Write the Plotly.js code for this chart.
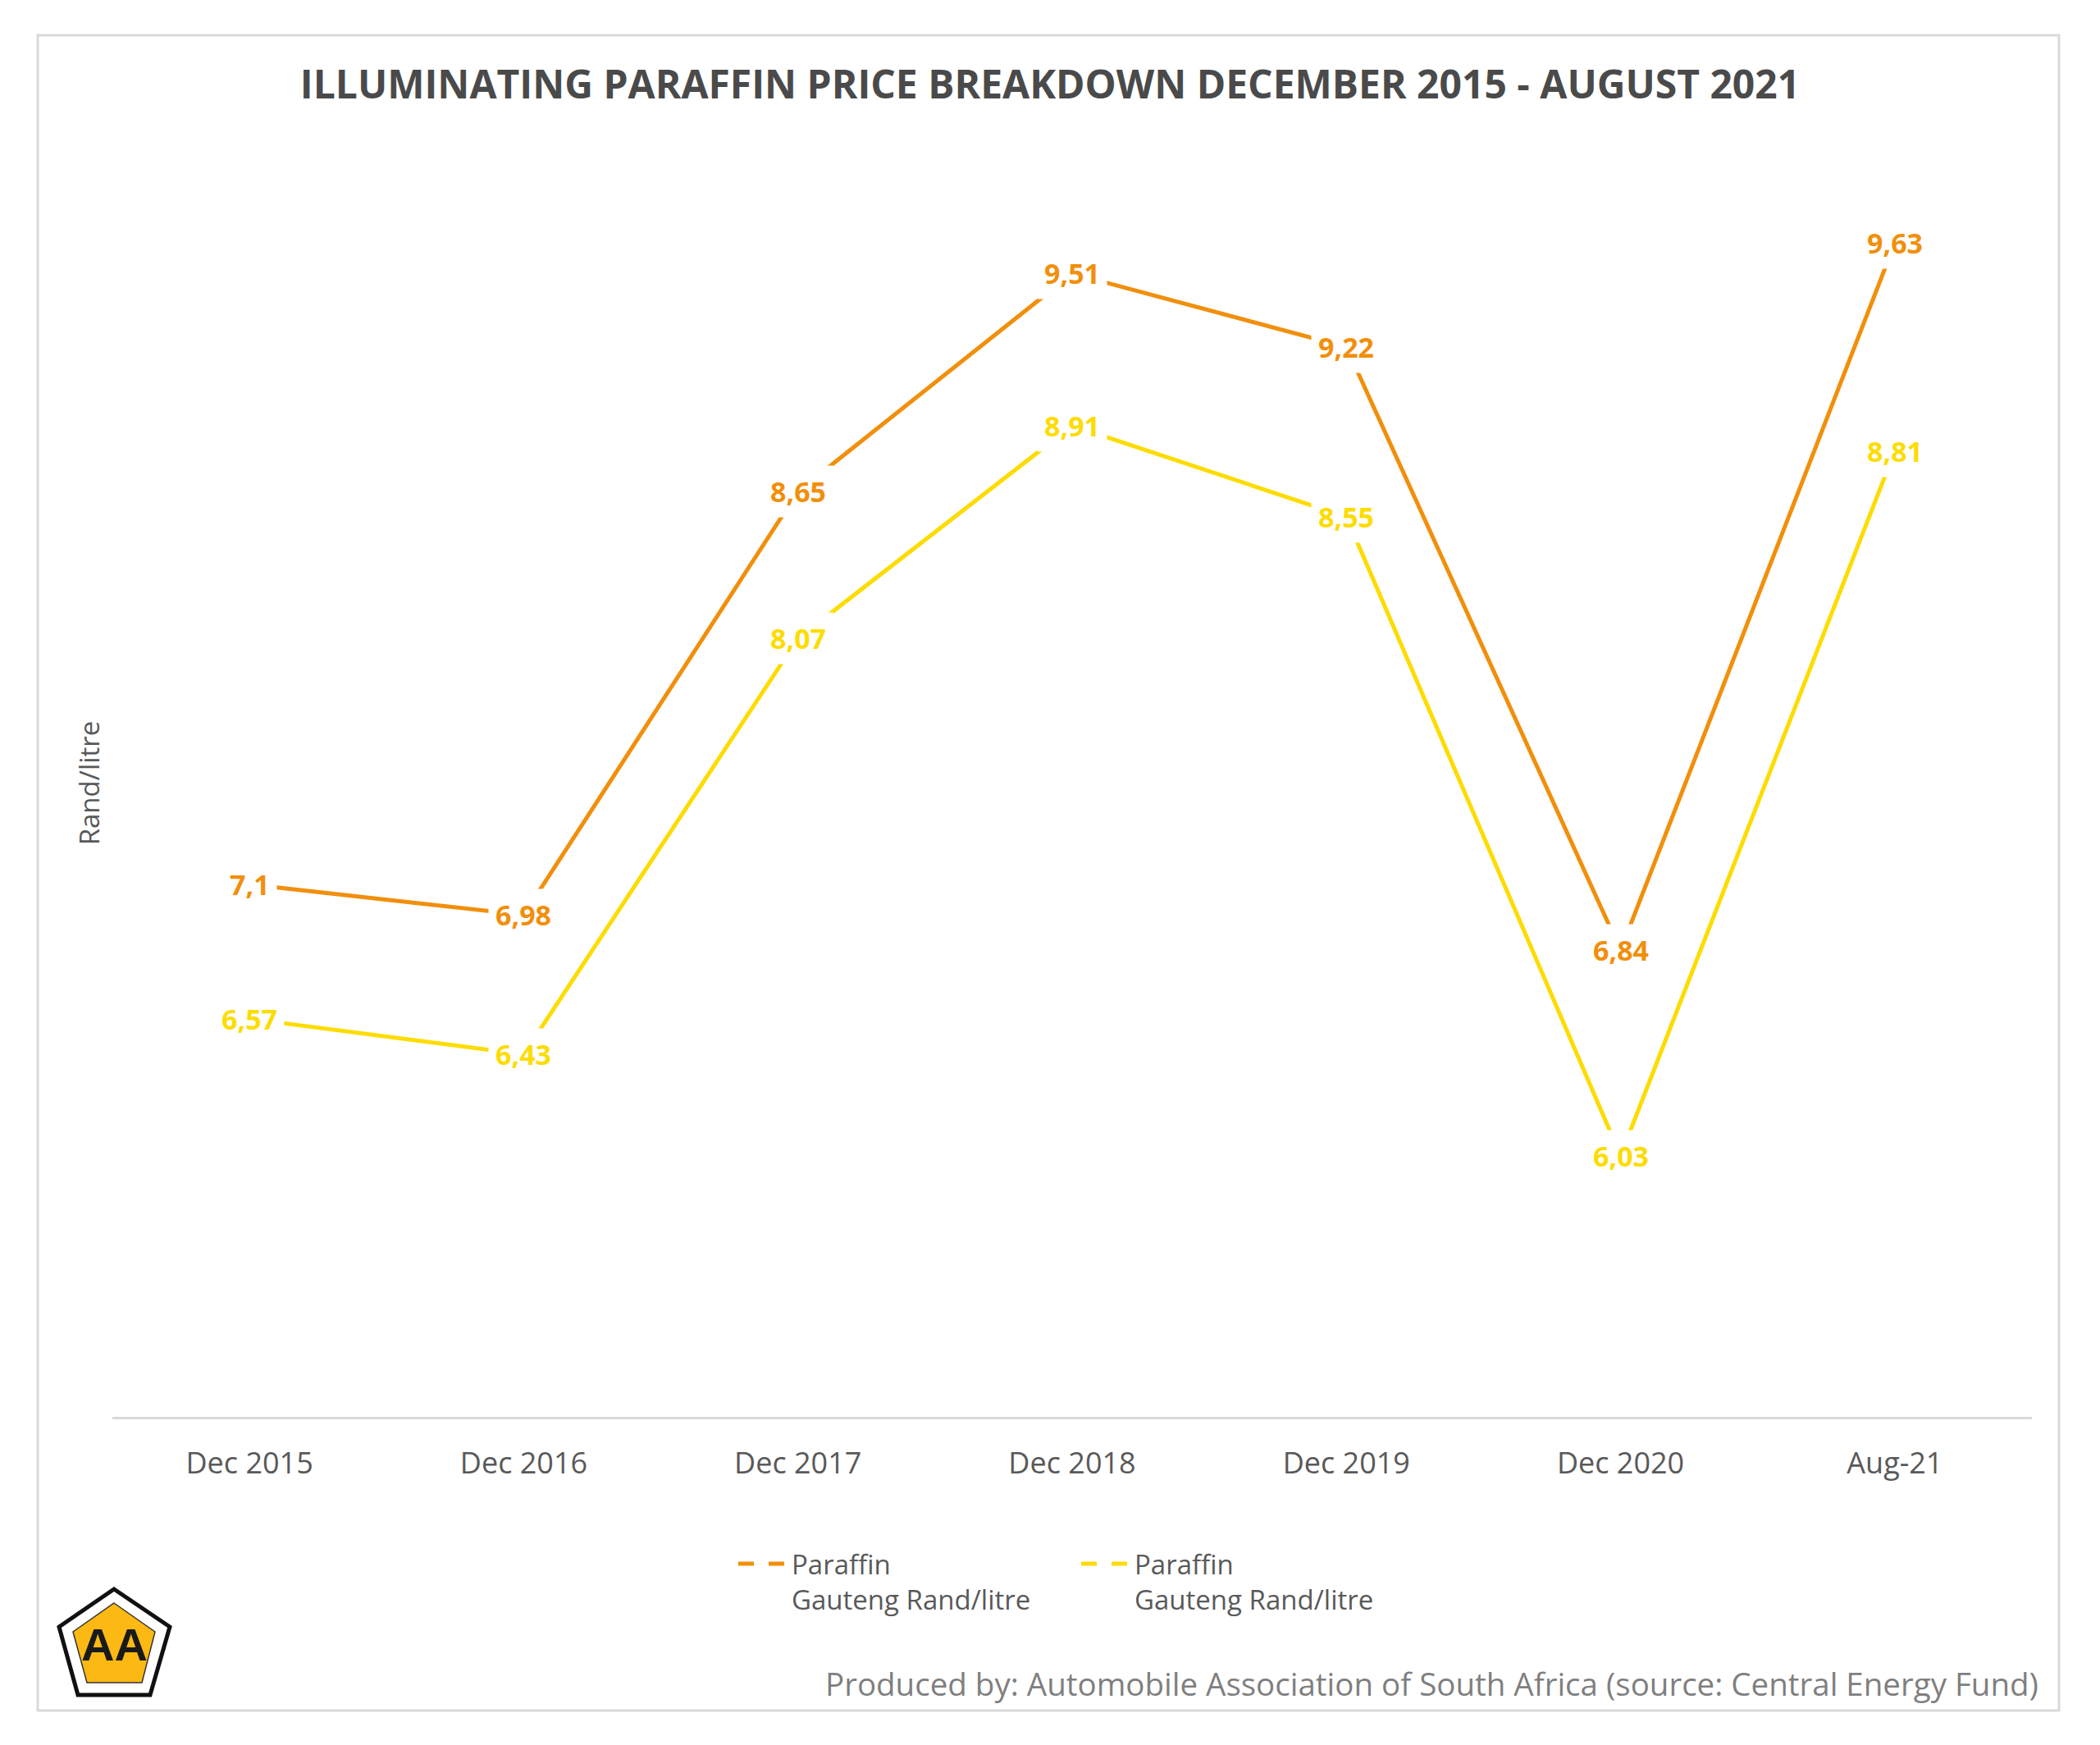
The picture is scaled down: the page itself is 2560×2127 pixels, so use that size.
<!DOCTYPE html>
<html>
<head>
<meta charset="utf-8">
<script src="https://cdn.plot.ly/plotly-3.0.1.min.js"></script>
<style>
  html, body { margin: 0; padding: 0; background: #ffffff; }
  #chart { width: 2560px; height: 2127px; }
</style>
</head>
<body>
<div id="chart"></div>
<script>
// ---- Data ----
var categories = ["Dec 2015", "Dec 2016", "Dec 2017", "Dec 2018", "Dec 2019", "Dec 2020", "Aug-21"];
var seriesName = "Paraffin<br>Gauteng Rand/litre";
var orangeValues = [7.1, 6.98, 8.65, 9.51, 9.22, 6.84, 9.63];
var yellowValues = [6.57, 6.43, 8.07, 8.91, 8.55, 6.03, 8.81];
var titleText = "ILLUMINATING PARAFFIN PRICE BREAKDOWN DECEMBER 2015 - AUGUST 2021";
var yTitleText = "Rand/litre";
var footerText = "Produced by: Automobile Association of South Africa (source: Central Energy Fund)";
var logoText = "AA";

// ---- Styles ----
var ORANGE = "#F18F0C";
var YELLOW = "#FDDC00";
var GREY = "#595959";
var FONT = "Open Sans, DejaVu Sans, sans-serif";

var W = 2560, H = 2127;
var M = {l: 137, r: 83, t: 182, b: 400};
var plotW = W - M.l - M.r, plotH = H - M.t - M.b;
function px(x) { return (x - M.l) / plotW; }
function py(y) { return (H - M.b - y) / plotH; }
function poly(pts) {
  return pts.map(function (p, i) { return (i ? "L" : "M") + px(p[0]) + "," + py(p[1]); }).join(" ") + " Z";
}
function fmt(v) { return String(v).replace(".", ","); }

var traces = [
  {x: categories, y: orangeValues, type: "scatter", mode: "lines",
   line: {color: ORANGE, width: 5}, showlegend: false, hoverinfo: "skip"},
  {x: categories, y: yellowValues, type: "scatter", mode: "lines",
   line: {color: YELLOW, width: 5}, showlegend: false, hoverinfo: "skip"},
  // legend entries (dashed symbols as in the original legend)
  {x: [null], y: [null], type: "scatter", mode: "lines", name: seriesName,
   line: {color: ORANGE, width: 5, dash: "19px,18px"}},
  {x: [null], y: [null], type: "scatter", mode: "lines", name: seriesName,
   line: {color: YELLOW, width: 5, dash: "19px,18px"}}
];

function labelAnn(vals, color) {
  return vals.map(function (v, i) {
    return {x: categories[i], y: v, xref: "x", yref: "y", text: fmt(v), showarrow: false,
      font: {family: FONT, size: 34, color: color, weight: "bold"},
      bgcolor: "#ffffff", borderpad: 8, xanchor: "center", yanchor: "middle"};
  });
}

var annotations = labelAnn(orangeValues, ORANGE).concat(labelAnn(yellowValues, YELLOW));
annotations.push({
  xref: "paper", yref: "paper", x: px(2487), y: py(2052), xanchor: "right", yanchor: "middle",
  text: footerText, showarrow: false, font: {family: FONT, size: 38.5, color: "#7f7f7f"}
});
annotations.push({
  xref: "paper", yref: "paper", x: px(139), y: py(2004), xanchor: "center", yanchor: "middle",
  text: logoText, showarrow: false,
  font: {family: "Liberation Sans, Arial, sans-serif", size: 56, color: "#1a1a1a", weight: "bold"}
});

var shapes = [
  {type: "rect", xref: "paper", yref: "paper", x0: px(46), x1: px(2510), y0: py(2085), y1: py(43),
   line: {color: "#d9d9d9", width: 3}, fillcolor: "rgba(0,0,0,0)", layer: "below"},
  {type: "path", xref: "paper", yref: "paper",
   path: poly([[139, 1937], [207, 1983], [183, 2066], [95, 2066], [72, 1983]]),
   fillcolor: "#ffffff", line: {color: "#111111", width: 5}},
  {type: "path", xref: "paper", yref: "paper",
   path: poly([[139, 1954], [189, 1989], [173, 2051], [106, 2051], [89, 1989]]),
   fillcolor: "#FDB913", line: {color: "#333333", width: 1.5}}
];

var layout = {
  width: W, height: H,
  margin: M,
  paper_bgcolor: "#ffffff", plot_bgcolor: "#ffffff",
  font: {family: FONT, color: GREY},
  title: {text: titleText, x: 0.5, xref: "container", y: 1 - 103 / H, yref: "container",
    xanchor: "center", yanchor: "middle",
    font: {family: FONT, size: 48, color: "#4a4a4a", weight: "bold"}},
  xaxis: {type: "category", range: [-0.5, 6.5], showgrid: false, zeroline: false,
    showline: true, linecolor: "#d9d9d9", linewidth: 3, ticks: "", ticklabelstandoff: 23,
    tickfont: {family: FONT, size: 36, color: GREY}, fixedrange: true},
  yaxis: {range: [5, 10], showgrid: false, zeroline: false, showline: false,
    showticklabels: false, ticks: "", fixedrange: true,
    title: {text: yTitleText, standoff: 4, font: {family: FONT, size: 33, color: GREY}}},
  showlegend: true,
  legend: {orientation: "h", x: px(895), xanchor: "left", y: py(1878), yanchor: "top",
    font: {family: FONT, size: 33, color: GREY}, valign: "top", itemwidth: 60,
    entrywidth: 343, entrywidthmode: "pixels", bgcolor: "rgba(0,0,0,0)"},
  annotations: annotations,
  shapes: shapes
};

Plotly.newPlot("chart", traces, layout, {displayModeBar: false, staticPlot: true});
</script>
</body>
</html>
